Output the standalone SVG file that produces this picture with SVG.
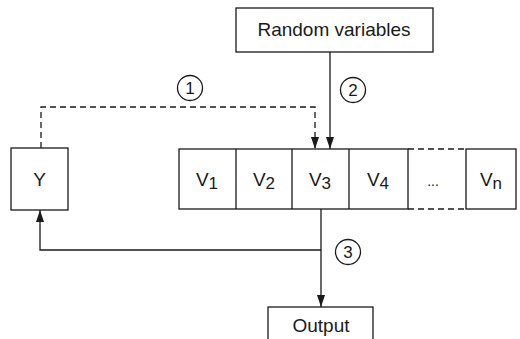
<svg xmlns="http://www.w3.org/2000/svg" width="520" height="339" viewBox="0 0 520 339">
  <style>
    .box { fill: #fff; stroke: #1a1a1a; stroke-width: 1.3; }
    .ln { fill: none; stroke: #1a1a1a; stroke-width: 1.3; }
    .dash { stroke-dasharray: 6 4; }
    .t { font-family: "Liberation Sans", Arial, sans-serif; font-size: 19px; fill: #1a1a1a; text-anchor: middle; }
    .sub { font-size: 17px; }
    .num { font-family: "Liberation Sans", Arial, sans-serif; font-size: 17px; fill: #1a1a1a; text-anchor: middle; }
  </style>
  <defs>
    <marker id="arrow" viewBox="0 0 12 8" refX="12" refY="4" markerWidth="12" markerHeight="8" markerUnits="userSpaceOnUse" orient="auto">
      <path d="M0,0 L12,4 L0,8 Z" fill="#1a1a1a"/>
    </marker>
  </defs>
  <rect width="520" height="339" fill="#fff"/>

  <g id="connectors">
    <!-- path 1: Y to V3 (dashed) -->
    <path class="ln dash" d="M41,148 V107 H315 V149" marker-end="url(#arrow)"/>
    <!-- path 2: random variables into V3 -->
    <path class="ln" d="M330,52 V149" marker-end="url(#arrow)"/>
    <!-- path 3: V3 to output and back to Y -->
    <path class="ln" d="M321,209 V307" marker-end="url(#arrow)"/>
    <path class="ln" d="M321,250 H40 V210" marker-end="url(#arrow)"/>
    <!-- step labels -->
    <circle class="ln" cx="190" cy="88" r="12.5"/>
    <text class="num" x="190" y="94">1</text>
    <circle class="ln" cx="353" cy="90" r="12.5"/>
    <text class="num" x="353" y="96">2</text>
    <circle class="ln" cx="348" cy="252" r="12.5"/>
    <text class="num" x="348" y="258">3</text>
  </g>

  <g id="random-variables">
    <rect class="box" x="236" y="8" width="197" height="44"/>
    <text class="t" x="334" y="36">Random variables</text>
  </g>

  <g id="y">
    <rect class="box" x="11" y="148" width="57" height="62"/>
    <text class="t" x="39.5" y="186">Y</text>
  </g>

  <g id="v-array">
    <rect class="box" x="179" y="149" width="229" height="60"/>
    <line class="ln" x1="236" y1="149" x2="236" y2="209"/>
    <line class="ln" x1="292" y1="149" x2="292" y2="209"/>
    <line class="ln" x1="349" y1="149" x2="349" y2="209"/>
    <line class="ln dash" x1="408" y1="149" x2="466" y2="149"/>
    <line class="ln dash" x1="408" y1="209" x2="466" y2="209"/>
    <rect class="box" x="466" y="149" width="50" height="60"/>
    <text class="t" x="207" y="186">V<tspan class="sub" dy="3">1</tspan></text>
    <text class="t" x="264" y="186">V<tspan class="sub" dy="3">2</tspan></text>
    <text class="t" x="320" y="186">V<tspan class="sub" dy="3">3</tspan></text>
    <text class="t" x="378" y="186">V<tspan class="sub" dy="3">4</tspan></text>
    <text class="t" x="433" y="186" style="font-size:14px">...</text>
    <text class="t" x="491" y="186">V<tspan class="sub" dy="3">n</tspan></text>
  </g>

  <g id="output">
    <rect class="box" x="268" y="307" width="105" height="40"/>
    <text class="t" x="321" y="332">Output</text>
  </g>
</svg>
